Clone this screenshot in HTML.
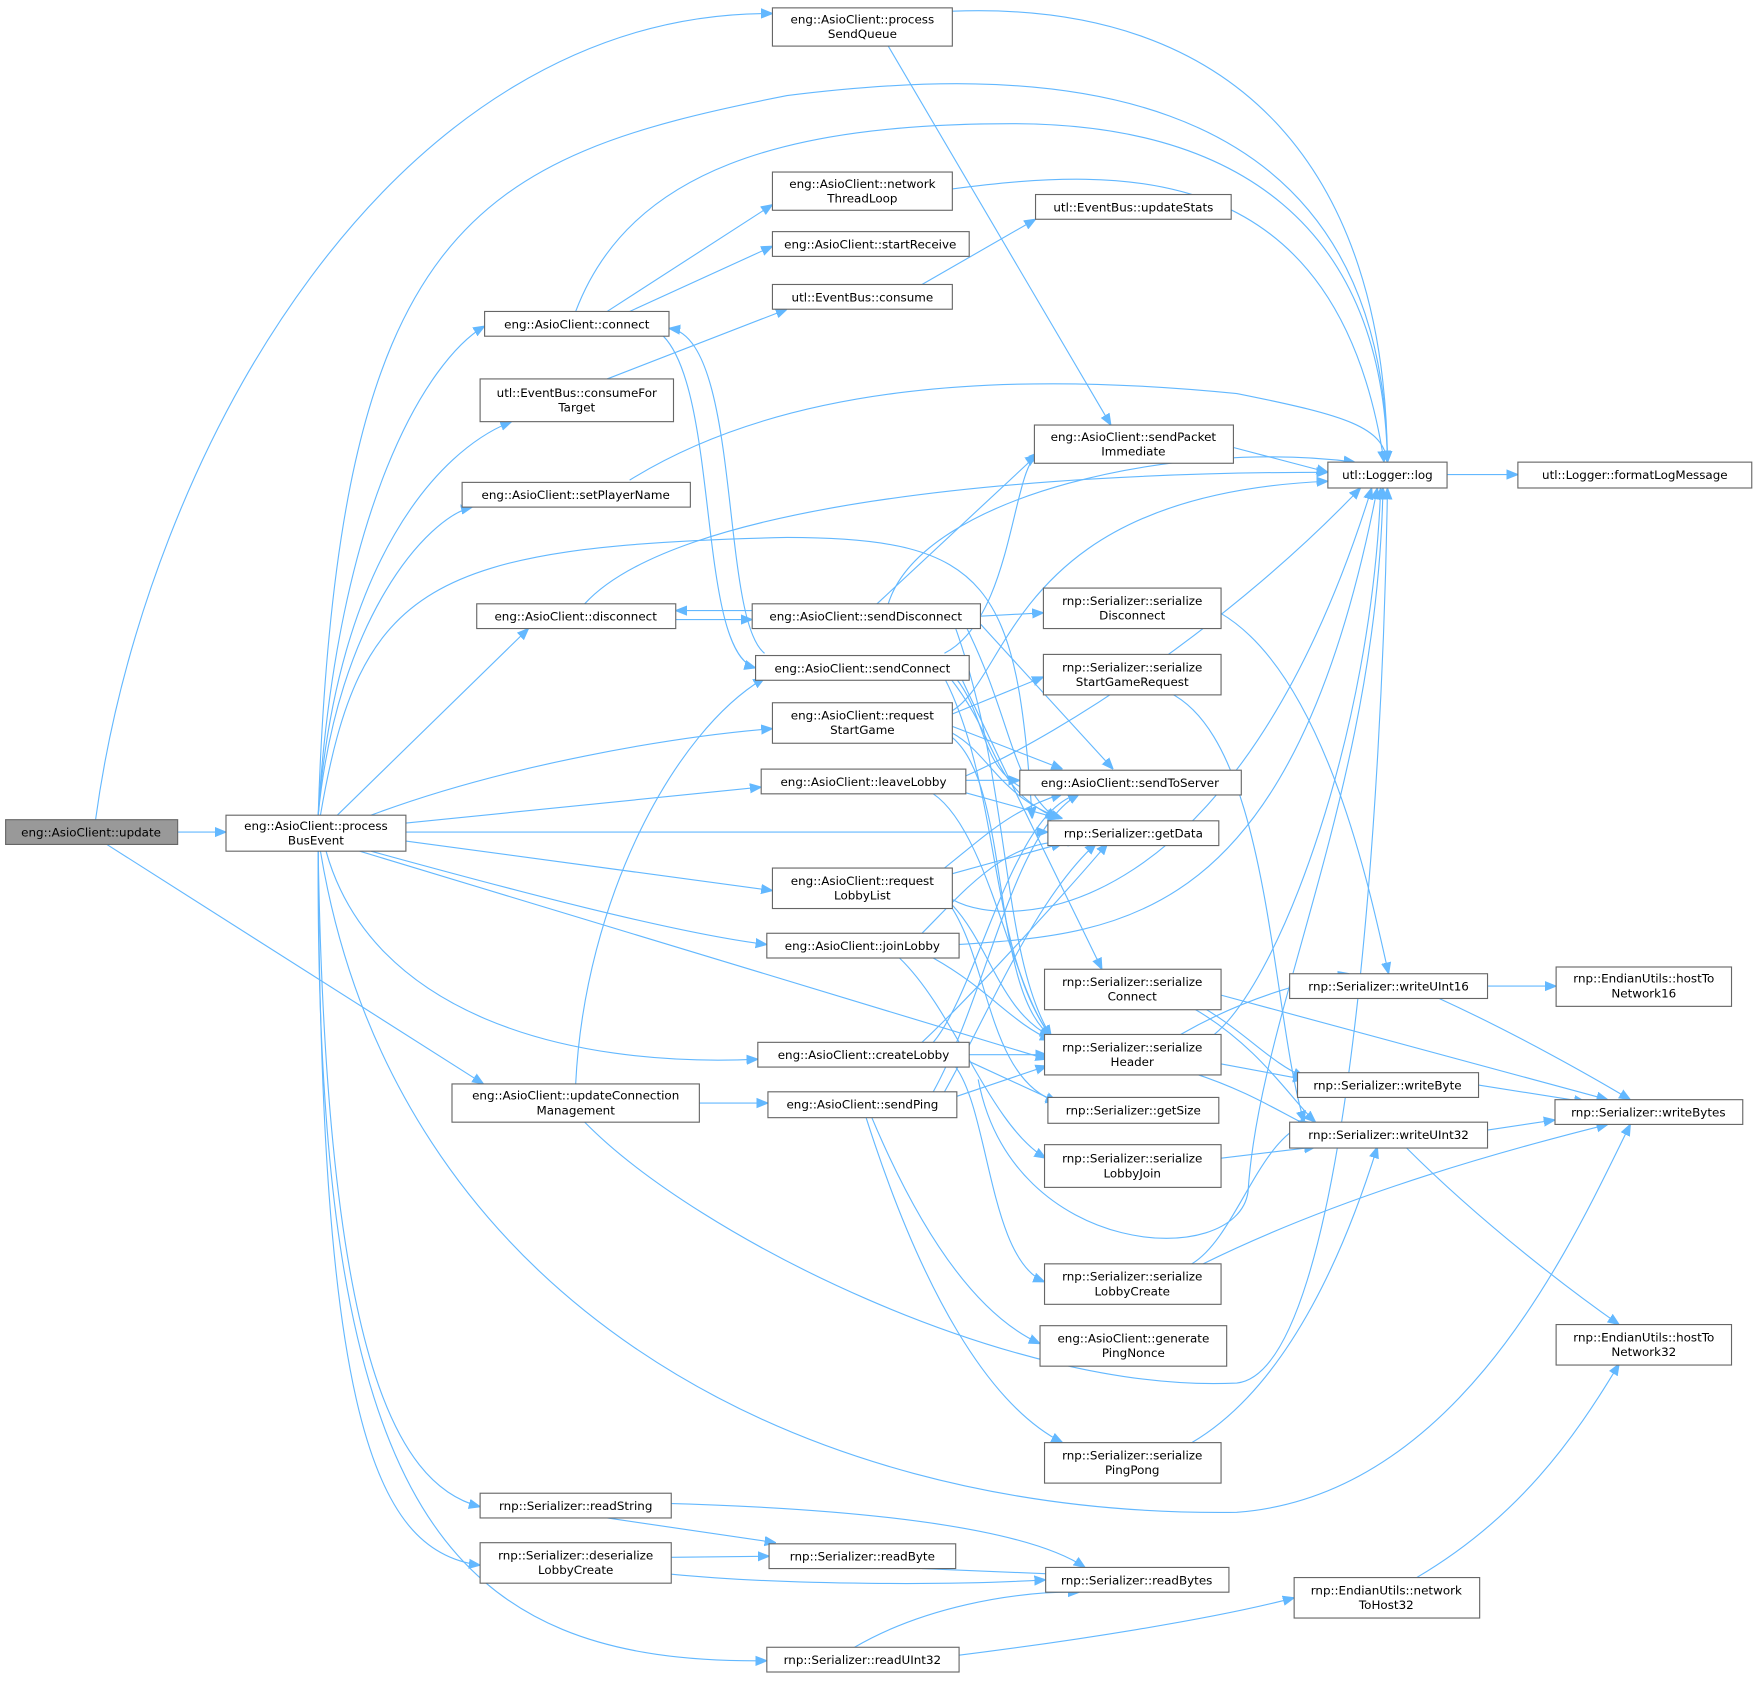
<!DOCTYPE html>
<html><head><meta charset="utf-8"><style>
html,body{margin:0;padding:0;background:#fff;width:1763px;height:1681px;overflow:hidden}
svg{display:block}
text{font-family:"DejaVu Sans","Liberation Sans",sans-serif;font-size:10.6px;fill:#000;text-anchor:middle}
.n{fill:#fff;stroke:#666;stroke-width:1}
.e{fill:none;stroke:#63b8ff;stroke-width:1}
</style></head><body>
<svg width="1763" height="1681" viewBox="0 0 1568 1495" preserveAspectRatio="none" xmlns="http://www.w3.org/2000/svg">
<defs><marker id="a" viewBox="0 0 10 10" refX="10" refY="5" markerWidth="10" markerHeight="10" markerUnits="userSpaceOnUse" orient="auto"><path d="M0,1 L10,5 L0,9 z" fill="#63b8ff" stroke="#63b8ff"/></marker></defs>
<g class="e" marker-end="url(#a)">
<path d="M158,740 L201,740"/>
<path d="M85,729 C130,400 350,10 687,12"/>
<path d="M95,751 L430,964"/>
<path d="M847,10 C1100,0 1232,150 1234,411"/>
<path d="M790,41 L988,378"/>
<path d="M283,725 C300,200 420,140 700,85 C900,60 1230,50 1234,411"/>
<path d="M283,725 C300,450 380,320 431,290"/>
<path d="M283,725 C300,500 390,400 455,375"/>
<path d="M283,725 C300,550 380,460 420,451"/>
<path d="M300,725 L470,559"/>
<path d="M330,725 C450,680 600,655 687,648"/>
<path d="M361,732 L677,700"/>
<path d="M361,740 L932,740"/>
<path d="M361,748 L687,792"/>
<path d="M330,757 C450,790 600,830 682,840"/>
<path d="M320,757 L931,942"/>
<path d="M290,757 C330,900 500,950 674,942"/>
<path d="M285,725 C320,520 380,485 700,478 C880,478 905,520 918,728"/>
<path d="M285,757 C350,1150 700,1350 1100,1345 C1300,1330 1400,1100 1450,1000"/>
<path d="M283,757 C290,1200 350,1320 427,1340"/>
<path d="M283,757 C285,1250 330,1380 427,1392"/>
<path d="M283,757 C280,1350 400,1480 682,1477"/>
<path d="M512,277 C560,150 700,110 900,110 C1100,110 1230,200 1234,411"/>
<path d="M540,277 L687,182"/>
<path d="M560,277 L687,219"/>
<path d="M590,299 C640,350 620,580 672,594"/>
<path d="M680,581 C640,550 660,300 595,292"/>
<path d="M540,337 L700,275"/>
<path d="M820,253 L921,195"/>
<path d="M847,168 C1000,148 1190,140 1231,411"/>
<path d="M560,427 C700,340 900,330 1100,350 C1200,370 1230,380 1234,411"/>
<path d="M520,537 C600,450 900,420 1181,420"/>
<path d="M601,551 L669,551"/>
<path d="M669,543 L601,543"/>
<path d="M780,537 L925,402"/>
<path d="M790,537 C820,440 1050,390 1205,411"/>
<path d="M872,548 L928,545"/>
<path d="M872,555 L990,684"/>
<path d="M860,559 C900,640 900,700 940,728"/>
<path d="M850,559 C900,700 890,850 935,922"/>
<path d="M840,581 C900,550 900,420 922,405"/>
<path d="M855,603 C900,700 960,820 980,862"/>
<path d="M850,603 C880,640 870,690 922,706"/>
<path d="M845,603 C890,660 880,700 940,728"/>
<path d="M840,603 C890,700 880,850 935,922"/>
<path d="M847,632 C900,600 900,440 1181,428"/>
<path d="M847,635 L928,602"/>
<path d="M847,646 L945,684"/>
<path d="M847,652 C880,670 890,710 945,728"/>
<path d="M847,656 C900,700 880,880 935,922"/>
<path d="M859,690 C950,650 1100,550 1210,434"/>
<path d="M859,694 L907,694"/>
<path d="M855,704 L942,728"/>
<path d="M830,706 C880,740 900,880 935,922"/>
<path d="M840,772 C880,740 900,720 945,706"/>
<path d="M847,777 L945,750"/>
<path d="M847,800 C900,830 1100,820 1220,434"/>
<path d="M847,805 C880,840 890,900 935,922"/>
<path d="M847,808 C880,860 880,960 940,980"/>
<path d="M820,830 C860,790 900,740 960,750"/>
<path d="M853,840 C1000,830 1150,820 1225,434"/>
<path d="M830,852 C880,880 900,910 935,925"/>
<path d="M800,852 C850,900 880,1000 930,1030"/>
<path d="M830,927 C870,880 900,720 960,706"/>
<path d="M820,927 C870,880 960,780 985,750"/>
<path d="M862,938 L931,938"/>
<path d="M862,944 L940,980"/>
<path d="M850,949 C880,990 880,1120 929,1140"/>
<path d="M870,960 C900,1120 1100,1130 1110,1060 C1120,900 1225,700 1230,434"/>
<path d="M512,964 C520,800 600,650 680,603"/>
<path d="M622,981 L683,981"/>
<path d="M520,998 C620,1100 900,1240 1100,1230 C1200,1220 1230,700 1234,434"/>
<path d="M851,975 L931,948"/>
<path d="M840,971 C880,900 920,800 975,750"/>
<path d="M830,971 C880,880 900,740 960,706"/>
<path d="M775,993 C820,1100 870,1170 925,1195"/>
<path d="M770,993 C820,1150 880,1250 945,1283"/>
<path d="M1085,545 C1180,600 1220,800 1235,866"/>
<path d="M1040,616 C1130,660 1130,900 1160,998"/>
<path d="M1086,885 L1430,978"/>
<path d="M1060,896 C1120,930 1150,980 1170,998"/>
<path d="M1070,896 C1110,920 1130,945 1160,958"/>
<path d="M1050,920 C1120,880 1180,870 1200,866"/>
<path d="M1080,920 C1140,870 1220,650 1228,434"/>
<path d="M1085,946 L1160,960"/>
<path d="M1060,954 C1110,970 1140,990 1165,1002"/>
<path d="M1086,1030 L1170,1020"/>
<path d="M1060,1124 C1100,1100 1120,1010 1165,998"/>
<path d="M1070,1124 C1200,1060 1350,1020 1430,1000"/>
<path d="M1060,1283 C1150,1230 1200,1100 1225,1020"/>
<path d="M1323,877 L1384,877"/>
<path d="M1280,888 C1350,920 1420,960 1450,978"/>
<path d="M1315,965 L1410,980"/>
<path d="M1323,1005 L1383,996"/>
<path d="M1250,1020 C1320,1090 1400,1150 1440,1178"/>
<path d="M1097,398 L1181,420"/>
<path d="M1287,422 L1350,422"/>
<path d="M540,1350 L690,1372"/>
<path d="M590,1337 C700,1340 900,1350 965,1394"/>
<path d="M597,1385 L684,1384"/>
<path d="M597,1400 C700,1410 850,1410 930,1405"/>
<path d="M820,1395 L940,1400"/>
<path d="M760,1465 C820,1430 900,1415 960,1416"/>
<path d="M853,1472 C950,1460 1080,1440 1151,1421"/>
<path d="M1260,1403 C1350,1350 1400,1280 1440,1213"/>
</g>
<g>
<rect x="5" y="729" width="153" height="22" fill="#999" stroke="#666"/><text x="81" y="744">eng::AsioClient::update</text>
<rect class="n" x="201" y="725" width="160" height="32"/><text x="281" y="738">eng::AsioClient::process</text><text x="281" y="751">BusEvent</text>
<rect class="n" x="687" y="7" width="160" height="34"/><text x="767" y="21">eng::AsioClient::process</text><text x="767" y="34">SendQueue</text>
<rect class="n" x="687" y="153" width="160" height="34"/><text x="767" y="167">eng::AsioClient::network</text><text x="767" y="180">ThreadLoop</text>
<rect class="n" x="687" y="206" width="175" height="22"/><text x="774" y="221">eng::AsioClient::startReceive</text>
<rect class="n" x="687" y="253" width="160" height="22"/><text x="767" y="268">utl::EventBus::consume</text>
<rect class="n" x="431" y="277" width="164" height="22"/><text x="513" y="292">eng::AsioClient::connect</text>
<rect class="n" x="427" y="337" width="172" height="38"/><text x="513" y="353">utl::EventBus::consumeFor</text><text x="513" y="366">Target</text>
<rect class="n" x="411" y="429" width="203" height="22"/><text x="512" y="444">eng::AsioClient::setPlayerName</text>
<rect class="n" x="921" y="173" width="174" height="22"/><text x="1008" y="188">utl::EventBus::updateStats</text>
<rect class="n" x="920" y="378" width="177" height="34"/><text x="1008" y="392">eng::AsioClient::sendPacket</text><text x="1008" y="405">Immediate</text>
<rect class="n" x="1181" y="411" width="106" height="23"/><text x="1234" y="426">utl::Logger::log</text>
<rect class="n" x="1350" y="411" width="208" height="23"/><text x="1454" y="426">utl::Logger::formatLogMessage</text>
<rect class="n" x="424" y="537" width="177" height="22"/><text x="512" y="552">eng::AsioClient::disconnect</text>
<rect class="n" x="669" y="537" width="203" height="22"/><text x="770" y="552">eng::AsioClient::sendDisconnect</text>
<rect class="n" x="672" y="583" width="190" height="22"/><text x="767" y="598">eng::AsioClient::sendConnect</text>
<rect class="n" x="928" y="523" width="158" height="36"/><text x="1007" y="538">rnp::Serializer::serialize</text><text x="1007" y="551">Disconnect</text>
<rect class="n" x="928" y="582" width="158" height="36"/><text x="1007" y="597">rnp::Serializer::serialize</text><text x="1007" y="610">StartGameRequest</text>
<rect class="n" x="687" y="625" width="160" height="36"/><text x="767" y="640">eng::AsioClient::request</text><text x="767" y="653">StartGame</text>
<rect class="n" x="677" y="684" width="182" height="22"/><text x="768" y="699">eng::AsioClient::leaveLobby</text>
<rect class="n" x="907" y="685" width="197" height="22"/><text x="1005" y="700">eng::AsioClient::sendToServer</text>
<rect class="n" x="932" y="730" width="152" height="22"/><text x="1008" y="745">rnp::Serializer::getData</text>
<rect class="n" x="687" y="772" width="160" height="36"/><text x="767" y="787">eng::AsioClient::request</text><text x="767" y="800">LobbyList</text>
<rect class="n" x="682" y="830" width="171" height="22"/><text x="767" y="845">eng::AsioClient::joinLobby</text>
<rect class="n" x="929" y="862" width="157" height="36"/><text x="1007" y="877">rnp::Serializer::serialize</text><text x="1007" y="890">Connect</text>
<rect class="n" x="929" y="920" width="157" height="36"/><text x="1007" y="935">rnp::Serializer::serialize</text><text x="1007" y="948">Header</text>
<rect class="n" x="674" y="927" width="188" height="22"/><text x="768" y="942">eng::AsioClient::createLobby</text>
<rect class="n" x="402" y="964" width="220" height="34"/><text x="512" y="978">eng::AsioClient::updateConnection</text><text x="512" y="991">Management</text>
<rect class="n" x="683" y="971" width="168" height="23"/><text x="767" y="986">eng::AsioClient::sendPing</text>
<rect class="n" x="932" y="976" width="152" height="23"/><text x="1008" y="991">rnp::Serializer::getSize</text>
<rect class="n" x="929" y="1018" width="157" height="38"/><text x="1007" y="1034">rnp::Serializer::serialize</text><text x="1007" y="1047">LobbyJoin</text>
<rect class="n" x="929" y="1124" width="157" height="36"/><text x="1007" y="1139">rnp::Serializer::serialize</text><text x="1007" y="1152">LobbyCreate</text>
<rect class="n" x="925" y="1179" width="166" height="36"/><text x="1008" y="1194">eng::AsioClient::generate</text><text x="1008" y="1207">PingNonce</text>
<rect class="n" x="929" y="1283" width="157" height="36"/><text x="1007" y="1298">rnp::Serializer::serialize</text><text x="1007" y="1311">PingPong</text>
<rect class="n" x="1147" y="866" width="176" height="22"/><text x="1235" y="881">rnp::Serializer::writeUInt16</text>
<rect class="n" x="1154" y="954" width="161" height="22"/><text x="1234" y="969">rnp::Serializer::writeByte</text>
<rect class="n" x="1147" y="998" width="176" height="23"/><text x="1235" y="1013">rnp::Serializer::writeUInt32</text>
<rect class="n" x="1383" y="978" width="167" height="22"/><text x="1466" y="993">rnp::Serializer::writeBytes</text>
<rect class="n" x="1384" y="860" width="156" height="35"/><text x="1462" y="874">rnp::EndianUtils::hostTo</text><text x="1462" y="887">Network16</text>
<rect class="n" x="1384" y="1178" width="156" height="36"/><text x="1462" y="1193">rnp::EndianUtils::hostTo</text><text x="1462" y="1206">Network32</text>
<rect class="n" x="427" y="1328" width="170" height="22"/><text x="512" y="1343">rnp::Serializer::readString</text>
<rect class="n" x="427" y="1372" width="170" height="36"/><text x="512" y="1387">rnp::Serializer::deserialize</text><text x="512" y="1400">LobbyCreate</text>
<rect class="n" x="684" y="1373" width="166" height="22"/><text x="767" y="1388">rnp::Serializer::readByte</text>
<rect class="n" x="930" y="1394" width="163" height="22"/><text x="1011" y="1409">rnp::Serializer::readBytes</text>
<rect class="n" x="1151" y="1403" width="165" height="36"/><text x="1233" y="1418">rnp::EndianUtils::network</text><text x="1233" y="1431">ToHost32</text>
<rect class="n" x="682" y="1465" width="171" height="22"/><text x="767" y="1480">rnp::Serializer::readUInt32</text>
</g>
</svg>
</body></html>
